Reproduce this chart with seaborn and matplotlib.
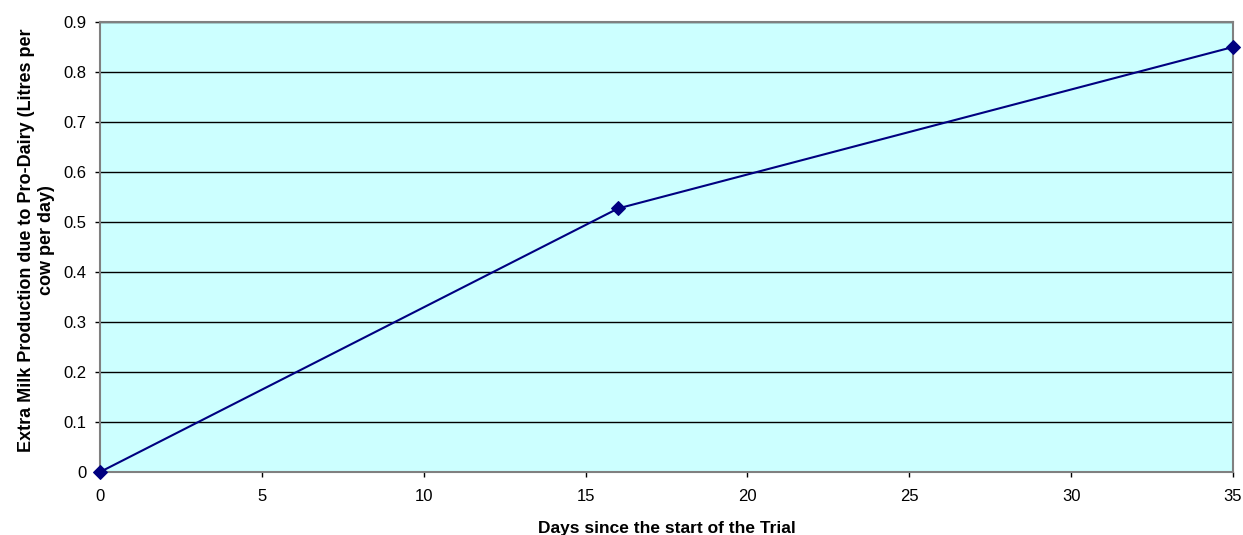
import seaborn as sns
import pandas as pd
from matplotlib import pyplot as plt

# Values
days = [0, 16, 35]
extra_milk = [0.0, 0.527, 0.85]
x_ticks = [0, 5, 10, 15, 20, 25, 30, 35]
y_ticks = [0, 0.1, 0.2, 0.3, 0.4, 0.5, 0.6, 0.7, 0.8, 0.9]

df = pd.DataFrame({'days': days, 'milk': extra_milk})

sns.set_style('white')
plt.rcParams['font.family'] = ['Liberation Sans', 'DejaVu Sans']
plt.rcParams['text.color'] = 'black'
plt.rcParams['axes.labelcolor'] = 'black'
plt.rcParams['xtick.labelcolor'] = 'black'
plt.rcParams['ytick.labelcolor'] = 'black'

fig = plt.figure(figsize=(12.43, 5.35), dpi=100)
ax = fig.add_axes([0.0805, 0.1178, 0.9115, 0.8411])
ax.set_facecolor('#CCFFFF')

sns.lineplot(data=df, x='days', y='milk', ax=ax, color='#000080', linewidth=1.5,
             marker='D', markersize=7, markeredgecolor='#000080', clip_on=False, zorder=3)

ax.set_xlim(0, 35)
ax.set_ylim(0, 0.9)
ax.set_xticks(x_ticks)
ax.set_yticks(y_ticks)
ax.set_xticklabels([str(t) for t in x_ticks])
ax.set_yticklabels(['0' if t == 0 else f'{t:g}' for t in y_ticks])
ax.yaxis.grid(True, color='black', linewidth=1)
ax.set_axisbelow(True)

for side in ['top', 'right', 'left', 'bottom']:
    ax.spines[side].set_visible(True)
    ax.spines[side].set_color('#808080')
    ax.spines[side].set_linewidth(1.5)

ax.tick_params(axis='both', which='both', labelsize=12, direction='out', length=3.5,
               width=1, color='black', bottom=True, left=True, pad=6)
ax.tick_params(axis='x', pad=9)

ax.set_xlabel('Days since the start of the Trial', fontsize=12.5, fontweight='bold', labelpad=12)
ax.set_ylabel('Extra Milk Production due to Pro-Dairy (Litres per\ncow per day)',
              fontsize=13, fontweight='bold', multialignment='center', va='center')
ax.yaxis.set_label_coords(-0.056, 0.515)

fig.savefig('out.png', dpi=100)
